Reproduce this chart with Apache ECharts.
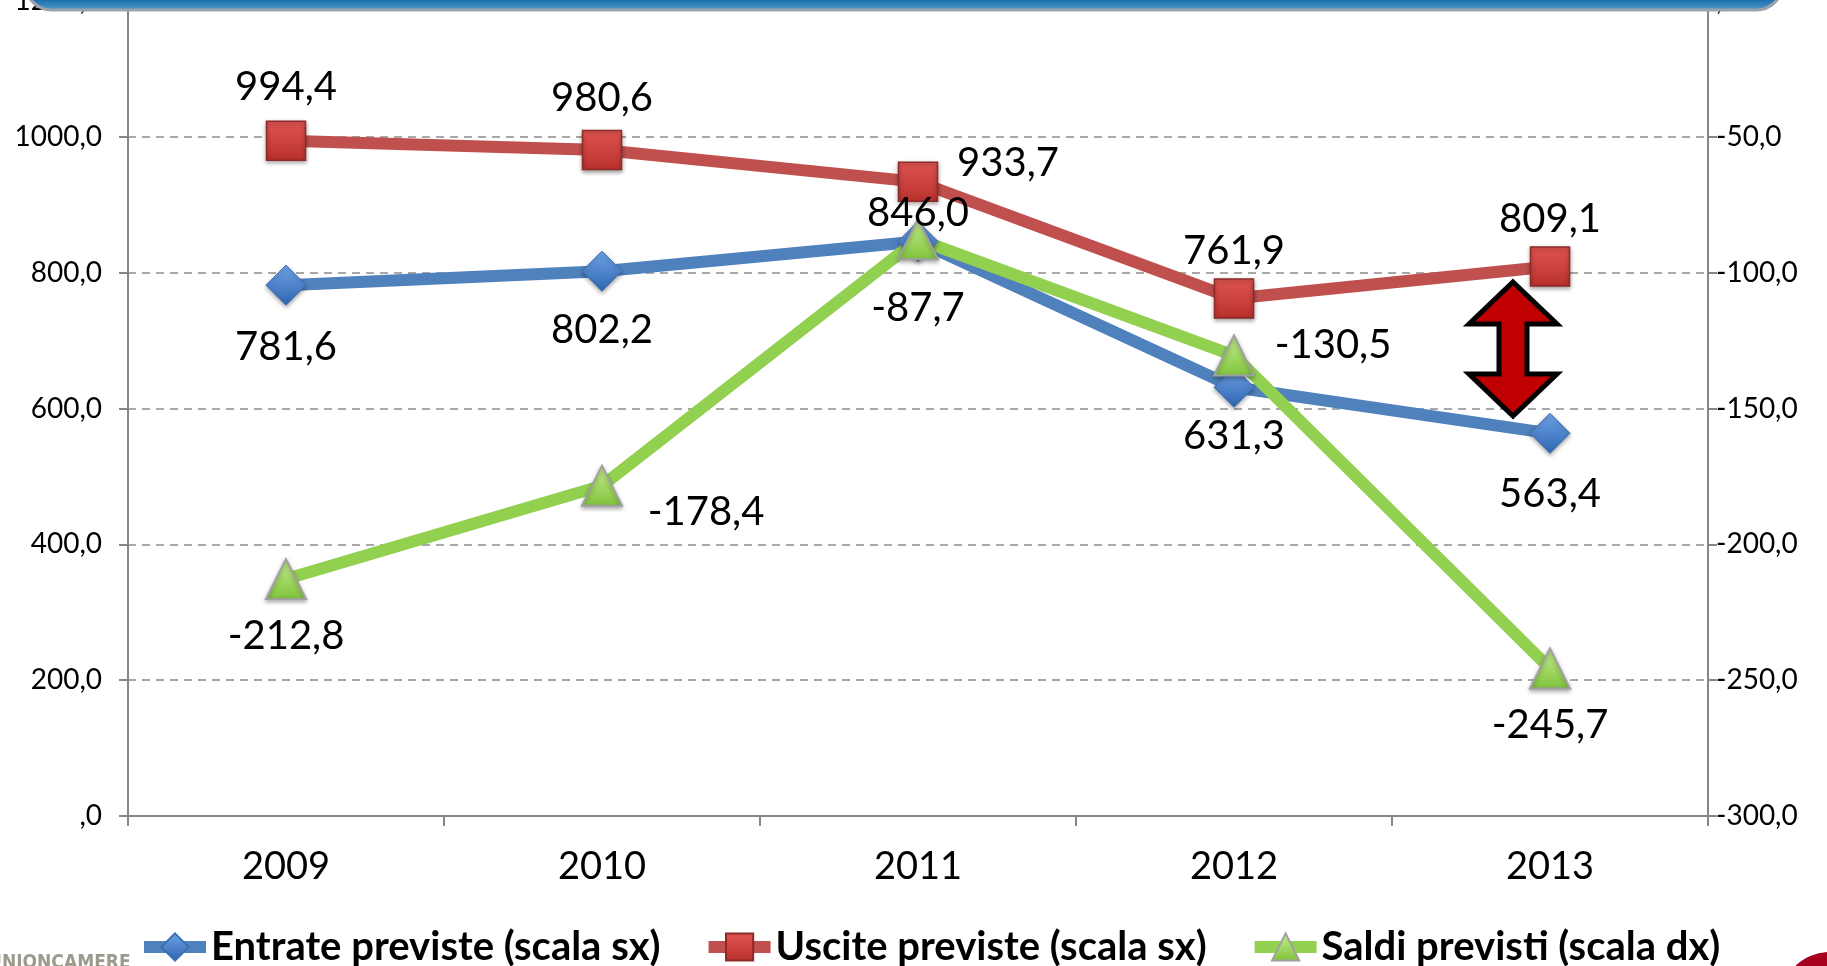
<!DOCTYPE html>
<html>
<head>
    <meta http-equiv="Content-Type" content="text/html; charset=utf-8" />
    <title>Entrate, uscite e saldi previsti</title>
    <style>
        html, body { margin: 0; padding: 0; background: #fff; }
        #main { width: 1827px; height: 966px; }
    </style>
</head>
<body>
    <div id="main"></div>
    <script src="https://cdn.jsdelivr.net/npm/echarts@6.0.0/dist/echarts.min.js"></script>
    <script type="text/javascript">
        var anni = ['2009', '2010', '2011', '2012', '2013'];
        var entrate = [781.6, 802.2, 846.0, 631.3, 563.4];
        var uscite = [994.4, 980.6, 933.7, 761.9, 809.1];
        var saldi = [-212.8, -178.4, -87.7, -130.5, -245.7];

        var nomi = ['Entrate previste (scala sx)', 'Uscite previste (scala sx)', 'Saldi previsti (scala dx)'];

        // where each value label sits relative to its point
        var offEntrate = [[0, 62], [0, 59], [0, -28], [0, 49], [0, 61]];
        var offUscite = [[0, -54], [0, -52], [90, -19], [0, -47], [0, -47]];
        var offSaldi = [[0, 57], [104, 26], [0, 69], [99, -10], [0, 57]];

        var fontName = 'Lato, "Open Sans", sans-serif';

        function virgola(v) {
            var s = Number(v).toFixed(1).replace('.', ',');
            if (s === '0,0') s = ',0';
            return s;
        }

        function punti(values, offs) {
            return values.map(function (v, i) {
                return {
                    value: v,
                    label: { offset: offs[i] }
                };
            });
        }

        function grad(top, bottom) {
            return new echarts.graphic.LinearGradient(0, 0, 0, 1, [
                { offset: 0, color: top },
                { offset: 1, color: bottom }
            ]);
        }

        var etichetta = {
            show: true,
            position: 'inside',
            color: '#000',
            fontFamily: fontName,
            fontSize: 40,
            formatter: function (p) { return virgola(p.value); }
        };

        var myChart = echarts.init(document.getElementById('main'));

        var option = {
            animation: false,
            backgroundColor: '#fff',
            grid: { left: 128, right: 119, top: 1, bottom: 150, outerBoundsMode: 'none', containLabel: false },
            legend: {
                left: 133,
                top: 922,
                itemGap: 42,
                itemWidth: 62,
                itemHeight: 34,
                lineStyle: { width: 12 },
                textStyle: {
                    fontFamily: fontName,
                    fontWeight: 'bold',
                    fontSize: 40,
                    color: '#000'
                },
                data: nomi
            },
            xAxis: {
                type: 'category',
                data: anni,
                boundaryGap: true,
                axisLine: { lineStyle: { color: '#868686', width: 2 } },
                axisTick: { show: true, length: 10, lineStyle: { color: '#868686', width: 2 } },
                axisLabel: { color: '#000', fontFamily: fontName, fontSize: 38, margin: 32 }
            },
            yAxis: [
                {
                    type: 'value',
                    min: 0,
                    max: 1200,
                    interval: 200,
                    axisLine: { show: true, lineStyle: { color: '#868686', width: 2 } },
                    axisTick: { show: true, length: 9, lineStyle: { color: '#868686', width: 2 } },
                    splitLine: { lineStyle: { color: '#8c8c8c', type: [8, 6], width: 1.5 } },
                    axisLabel: {
                        color: '#000', fontFamily: fontName, fontSize: 28, margin: 26,
                        formatter: virgola
                    }
                },
                {
                    type: 'value',
                    min: -300,
                    max: 0,
                    interval: 50,
                    position: 'right',
                    axisLine: { show: true, lineStyle: { color: '#868686', width: 2 } },
                    axisTick: { show: true, length: 9, lineStyle: { color: '#868686', width: 2 } },
                    splitLine: { show: false },
                    axisLabel: {
                        color: '#000', fontFamily: fontName, fontSize: 28, margin: 8,
                        formatter: virgola
                    }
                }
            ],
            series: [
                {
                    name: nomi[0],
                    type: 'line',
                    yAxisIndex: 0,
                    symbol: 'diamond',
                    symbolSize: 40,
                    lineStyle: { color: '#4F81BD', width: 12 },
                    itemStyle: {
                        color: grad('#6fa3e8', '#2f66b0'),
                        borderColor: '#3a6fb5',
                        borderWidth: 1,
                        shadowColor: 'rgba(0,0,0,0.35)',
                        shadowBlur: 4,
                        shadowOffsetY: 2
                    },
                    label: etichetta,
                    data: punti(entrate, offEntrate)
                },
                {
                    name: nomi[1],
                    type: 'line',
                    yAxisIndex: 0,
                    symbol: 'rect',
                    symbolSize: 39,
                    lineStyle: { color: '#C0504D', width: 12 },
                    itemStyle: {
                        color: grad('#e05552', '#b8302c'),
                        borderColor: '#8e2a27',
                        borderWidth: 1.5,
                        shadowColor: 'rgba(0,0,0,0.35)',
                        shadowBlur: 4,
                        shadowOffsetY: 2
                    },
                    label: etichetta,
                    data: punti(uscite, offUscite)
                },
                {
                    name: nomi[2],
                    type: 'line',
                    yAxisIndex: 1,
                    symbol: 'triangle',
                    symbolSize: 40,
                    lineStyle: { color: '#92D050', width: 12 },
                    itemStyle: {
                        color: grad('#c6ef8f', '#7fc23b'),
                        borderColor: '#a0a0a0',
                        borderWidth: 2,
                        shadowColor: 'rgba(0,0,0,0.3)',
                        shadowBlur: 4,
                        shadowOffsetY: 2
                    },
                    label: etichetta,
                    data: punti(saldi, offSaldi)
                }
            ],
            graphic: [
                {
                    type: 'rect',
                    z: 100,
                    shape: { x: 25, y: -44, width: 1758, height: 54, r: 28 },
                    style: {
                        fill: new echarts.graphic.LinearGradient(0, 0, 0, 1, [
                            { offset: 0, color: '#0d5a8f' },
                            { offset: 0.8, color: '#1c72ad' },
                            { offset: 1, color: '#5a9fd0' }
                        ]),
                        stroke: '#9aa3ab',
                        lineWidth: 3
                    }
                },
                {
                    type: 'polygon',
                    z: 100,
                    shape: {
                        points: [
                            [1513, 282], [1557, 324], [1527, 324], [1527, 374],
                            [1557, 374], [1513, 416], [1469, 374], [1499, 374],
                            [1499, 324], [1469, 324]
                        ]
                    },
                    style: { fill: '#C00000', stroke: '#000', lineWidth: 5, lineJoin: 'miter' }
                },
                {
                    type: 'text',
                    z: 100,
                    left: -12,
                    top: 954,
                    style: {
                        text: 'UNIONCAMERE',
                        fill: '#9c9a8c',
                        font: 'bold 19px "DejaVu Sans Condensed", sans-serif'
                    }
                },
                {
                    type: 'circle',
                    z: 100,
                    shape: { cx: 1830, cy: 1002, r: 50 },
                    style: { fill: '#a6001e' }
                }
            ]
        };

        myChart.setOption(option);
    </script>
</body>
</html>
